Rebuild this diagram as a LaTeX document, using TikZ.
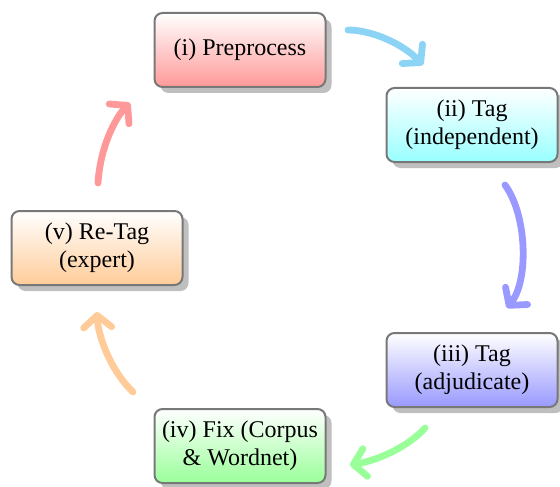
\documentclass[tikz,border=0pt]{standalone}
\usepackage{fontspec}
\newfontfamily\stagefont{Liberation Serif}
\usetikzlibrary{arrows.meta,shadows}
\definecolor{arrcyan}{RGB}{140,212,245}
\definecolor{bordergray}{RGB}{120,120,120}
\tikzset{
  stage/.style={draw=bordergray, line width=1pt, rounded corners=4pt,
    minimum width=85.5pt, minimum height=37pt, align=center,
    font=\stagefont\fontsize{12}{14}\selectfont, top color=white, bottom color=#1,
    drop shadow={shadow xshift=3pt, shadow yshift=-3pt, opacity=0.5}},
  flow/.style={draw=#1, line width=3.4pt, line cap=round,
    -{Straight Barb[length=6pt,width=14pt,round]}}
}
\begin{document}
\begin{tikzpicture}[x=0.5pt,y=-0.5pt]
\useasboundingbox (0,0) rectangle (560,486);
\node[stage=red!40]    (p1) at (240,50)  {(i) Preprocess};
\node[stage=cyan!40]   (p2) at (472,125) {(ii) Tag\\(independent)};
\node[stage=blue!40]   (p3) at (472,370) {(iii) Tag\\(adjudicate)};
\node[stage=green!40]  (p4) at (240,446) {(iv) Fix (Corpus\\\& Wordnet)};
\node[stage=orange!40] (p5) at (97,248)  {(v) Re-Tag\\(expert)};
\coordinate (a1s) at (348,30);  \coordinate (a1e) at (423,65);
\coordinate (a2s) at (505,185); \coordinate (a2e) at (507,308);
\coordinate (a3s) at (425,428); \coordinate (a3e) at (350,465);
\coordinate (a4s) at (133,392); \coordinate (a4e) at (97,312);
\coordinate (a5s) at (98,183);  \coordinate (a5e) at (130,103);
\draw[flow=arrcyan] (a1s) .. controls (372,30) and (403,44) .. (a1e);
\draw[flow=blue!40] (a2s) .. controls (527,215) and (529,280) .. (a2e);
\draw[flow=green!40] (a3s) .. controls (410,445) and (380,460) .. (a3e);
\draw[flow=orange!40] (a4s) .. controls (110,370) and (98,335) .. (a4e);
\draw[flow=red!40] (a5s) .. controls (100,148) and (115,118) .. (a5e);
\end{tikzpicture}
\end{document}
